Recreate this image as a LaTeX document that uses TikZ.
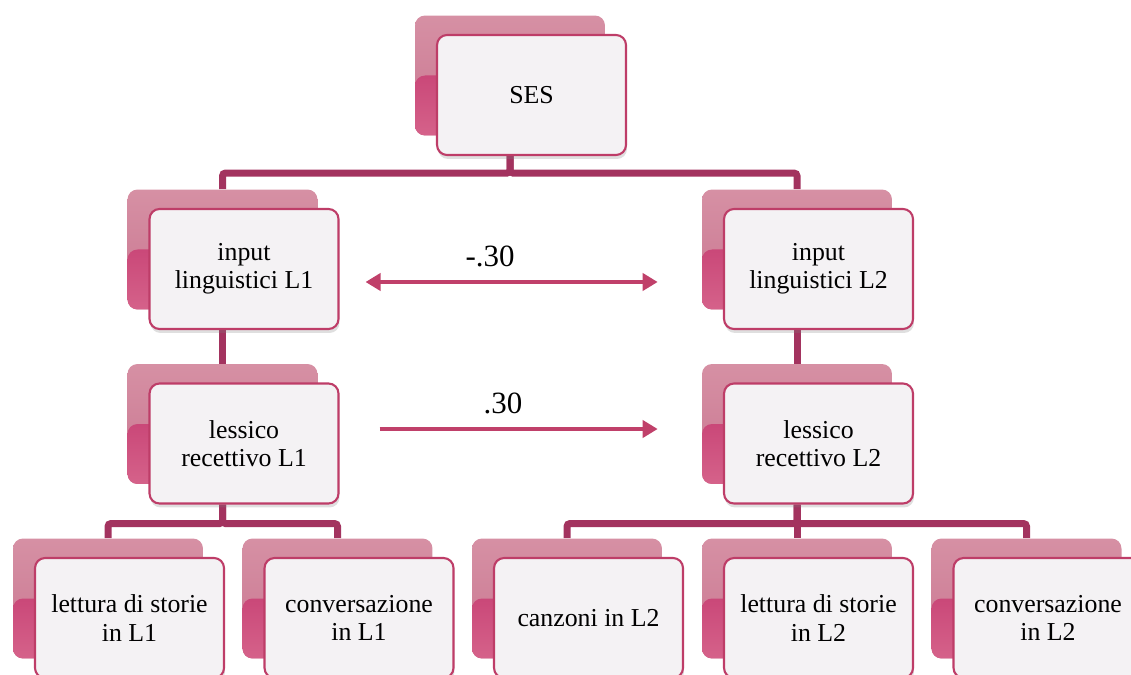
\documentclass[tikz,border=0pt]{standalone}
\usepackage{fontspec}
\setmainfont{Liberation Serif}
\usetikzlibrary{shadows,backgrounds,arrows.meta}
\definecolor{conn}{HTML}{A3335F}
\definecolor{arr}{HTML}{C0406A}
\definecolor{fborder}{HTML}{BE3D68}
\definecolor{ffill}{HTML}{F4F2F4}
\definecolor{btop}{HTML}{D690A4}
\definecolor{bmid}{HTML}{C97690}
\definecolor{blow}{HTML}{BF2E67}
\definecolor{bbot}{HTML}{D5628A}
\begin{document}
\begin{tikzpicture}[x=0.02cm,y=-0.02cm,
  front/.style={draw=fborder, line width=1.2pt, fill=ffill, rounded corners=0.2cm,
    minimum width=3.78cm, minimum height=2.4cm, align=center, inner sep=2pt,
    font=\fontsize{14.7}{16}\selectfont,
    drop shadow={opacity=0.25, shadow xshift=0.02cm, shadow yshift=-0.08cm}},
  back/.style={rounded corners=0.2cm, minimum width=3.8cm, minimum height=2.4cm,
    top color=btop, bottom color=bmid, inner sep=0pt,
    path picture={\shade[top color=blow, bottom color=bbot]
      (path picture bounding box.west) rectangle (path picture bounding box.south east);}},
  link/.style={draw=conn, line width=0.14cm, rounded corners=0.06cm},
  rel/.style={draw=arr, line width=0.08cm},
  lbl/.style={font=\fontsize{17.6}{20}\selectfont, anchor=base}]
\useasboundingbox (0,0) rectangle (1131,675);

% top
\node[back] (sesb) at (510,75.5) {};
\node[front] (ses) at (531.5,95) {SES};
% second row
\node[back] (in1b) at (222.5,249.5) {};
\node[front] (in1) at (244,269) {input\\linguistici L1};
\node[back] (in2b) at (797,249.5) {};
\node[front] (in2) at (818.5,269) {input\\linguistici L2};
% third row
\node[back] (le1b) at (222.5,424) {};
\node[front] (le1) at (244,443.5) {lessico\\recettivo L1};
\node[back] (le2b) at (797,424) {};
\node[front] (le2) at (818.5,443.5) {lessico\\recettivo L2};
% bottom row
\node[back] (c1b) at (108,598.5) {};
\node[front] (c1) at (129.5,618) {lettura di storie\\in L1};
\node[back] (c2b) at (337.5,598.5) {};
\node[front] (c2) at (359,618) {conversazione\\in L1};
\node[back] (c3b) at (567,598.5) {};
\node[front] (c3) at (588.5,618) {canzoni in L2};
\node[back] (c4b) at (797,598.5) {};
\node[front] (c4) at (818.5,618) {lettura di storie\\in L2};
\node[back] (c5b) at (1026.5,598.5) {};
\node[front] (c5) at (1048,618) {conversazione\\in L2};

\begin{pgfonlayer}{background}
  \draw[link] (ses.south -| sesb.center) -- ++(0,17) -| (in1b.north);
  \draw[link] (ses.south -| sesb.center) -- ++(0,17) -| (in2b.north);
  \draw[link] (in1.south -| in1b.center) -- (le1b.north);
  \draw[link] (in2.south -| in2b.center) -- (le2b.north);
  \draw[link] (le1.south -| le1b.center) -- ++(0,19) -| (c1b.north);
  \draw[link] (le1.south -| le1b.center) -- ++(0,19) -| (c2b.north);
  \draw[link] (le2.south -| le2b.center) -- ++(0,19) -| (c3b.north);
  \draw[link] (le2.south -| le2b.center) -- (c4b.north);
  \draw[link] (le2.south -| le2b.center) -- ++(0,19) -| (c5b.north);
\end{pgfonlayer}

% relations
\draw[rel, arrows={Triangle[length=0.3cm,width=0.34cm]-Triangle[length=0.3cm,width=0.34cm]},
  shorten <=0.52cm, shorten >=0.88cm]
  ([yshift=-0.26cm]in1.east) -- ([yshift=-0.26cm]in1.east -| in2b.west);
\draw[rel, arrows={-Triangle[length=0.3cm,width=0.34cm]},
  shorten <=0.8cm, shorten >=0.88cm]
  ([yshift=0.29cm]le1.east) -- ([yshift=0.29cm]le1.east -| le2b.west);
\node[lbl] (r1) at (490,267) {-.30};
\node[lbl] (r2) at (503,413) {.30};
\end{tikzpicture}
\end{document}
